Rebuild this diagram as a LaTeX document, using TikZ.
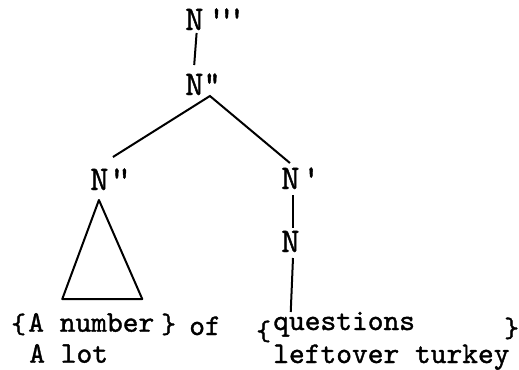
\documentclass[tikz,border=0pt]{standalone}
\usepackage{fontspec}
\usepackage{tikz}
\usetikzlibrary{positioning}
\setmonofont{lmmono10-regular.otf}[FakeBold=1.2]
\newcommand{\tck}{\textquotesingle}

\begin{document}
\begin{tikzpicture}[x=0.75pt,y=-0.75pt,
  tnode/.style={font=\ttfamily\fontsize{26}{30}\selectfont,inner sep=0pt,anchor=base west},
  lbl/.style={font=\ttfamily\fontsize{22.5}{26}\selectfont,inner sep=0pt,anchor=base west},
  brc/.style={font=\ttfamily\fontsize{21}{24}\selectfont,inner sep=0pt,anchor=base west},
  branch/.style={line width=1.5pt}]
  \useasboundingbox (0,0) rectangle (519,369);
  \node[tnode] (nmax) at (185,30) {N\kern3pt\tck\kern-6pt\tck\kern-6pt\tck};
  \node[tnode] (nmid) at (185,95) {N\kern-2.4pt\tck\kern-9.5pt\tck};
  \node[tnode] (nspec) at (90,190) {N\kern-0.5pt\tck\kern-8pt\tck};
  \node[tnode] (nbar) at (281,189) {N\kern2pt\tck};
  \node[tnode] (nhead) at (281,252) {N};
  \node[brc] (lb1) at (11,333) {\{};
  \node[lbl] (anum) at (28,331.7) {A number};
  \node[lbl] (alot) at (29,362.7) {A lot};
  \node[brc] (rb1) at (161,333) {\}};
  \node[lbl] (of) at (189,335) {of};
  \node[brc] (lb2) at (256,340) {\{};
  \node[lbl] (quest) at (273,330) {questions};
  \node[lbl] (turkey) at (273,363) {leftover turkey};
  \node[brc] (rb2) at (504,337) {\}};
  \draw[branch] ([xshift=8.7pt,yshift=-2.25pt]nmax.base west) -- ([xshift=6.9pt,yshift=22.5pt]nmid.base west);
  \draw[branch] ([xshift=17.2pt,yshift=24.75pt]nspec.base west) -- ([xshift=18.7pt,yshift=-0.75pt]nmid.base west)
    -- ([xshift=6.7pt,yshift=19.5pt]nbar.base west);
  \draw[branch] ([xshift=9pt,yshift=-4.5pt]nbar.base west) -- ([xshift=9pt,yshift=18pt]nhead.base west);
  \draw[branch] ([xshift=9pt,yshift=-4.5pt]nhead.base west) -- ([xshift=13.3pt,yshift=13.5pt]quest.base west);
  \draw[branch,line join=round] ([xshift=6.7pt,yshift=-7.5pt]nspec.base west) -- ([xshift=25.7pt,yshift=24.5pt]anum.base west)
    -- ([xshift=85.7pt,yshift=24.5pt]anum.base west) -- cycle;
\end{tikzpicture}
\end{document}
